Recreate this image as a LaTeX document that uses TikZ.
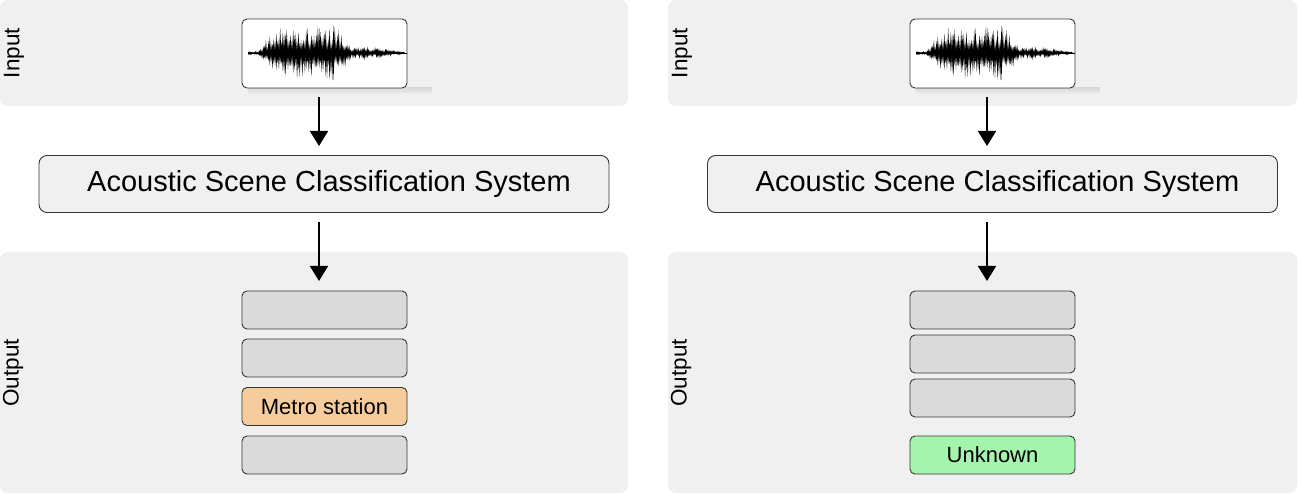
\documentclass[tikz,border=0pt]{standalone}
\usepackage{fontspec}
\setmainfont{Liberation Sans}
\usetikzlibrary{arrows.meta}
\definecolor{panelbg}{HTML}{F0F0F0}
\definecolor{slotgray}{HTML}{DADADA}
\definecolor{peach}{HTML}{F6CC9C}
\definecolor{mint}{HTML}{A5F4AE}
\definecolor{edge}{HTML}{363636}
\tikzset{
  panel/.style={fill=panelbg, draw=none, rounded corners=8pt},
  sidelabel/.style={rotate=90, font=\fontsize{22.5}{26}\selectfont, inner sep=0pt},
  wavebox/.style={draw=edge, line width=0.9pt, fill=white, rounded corners=5pt, minimum width=165pt, minimum height=69pt, inner sep=0pt},
  ascbox/.style={draw=edge, line width=0.9pt, fill=panelbg, rounded corners=8pt, minimum width=570pt, minimum height=57pt, font=\fontsize{29}{34}\selectfont, inner sep=0pt},
  slot/.style={draw=edge, line width=0.9pt, fill=slotgray, rounded corners=5pt, minimum width=165pt, minimum height=38pt, font=\fontsize{22}{26}\selectfont, inner sep=0pt},
  flow/.style={line width=1.8pt, -{Triangle[length=15pt,width=18pt]}},
}
\newcommand{\mywave}[2]{%
  \pgfmathsetseed{11}%
  \draw[line width=0.6pt] (#1-1,#2) -- (#1+158,#2);
  \foreach \i in {0,1.3,...,156}{%
    \pgfmathsetmacro{\xx}{#1+\i}%
    \pgfmathsetmacro{\env}{(\i<10) ? 2.5 : ((\i<24) ? 2.5+(\i-10)*1.6 : ((\i<88) ? 28 : ((\i<102) ? 28-(\i-88)*1.5 : ((\i<120) ? 7 : 7-(\i-120)*0.15))))}%
    \pgfmathsetmacro{\core}{\env*0.35}%
    \pgfmathsetmacro{\up}{\core+(\env-\core)*rnd^1.3}%
    \pgfmathsetmacro{\dn}{\core+(\env-\core)*rnd^1.3}%
    \fill (\xx-1.1,#2) -- (\xx,#2-\up) -- (\xx+1.1,#2) -- (\xx,#2+\dn) -- cycle;
  }%
}
\begin{document}
\begin{tikzpicture}[x=1pt,y=-1pt]
\useasboundingbox (0,0) rectangle (1298,494);
% ===== left =====
\fill[panel] (0,0) rectangle (628,106);
\fill[panel] (0,252) rectangle (628,493);
\node[sidelabel] (inL) at (14,53) {Input};
\node[sidelabel] (outL) at (13,373) {Output};
\shade[top color=gray!30, bottom color=panelbg] (248,88) rectangle (432,94);
\node[wavebox] (waveL) at (324.5,53.5) {};
\mywave{249}{53}
\node[ascbox] (ascL) at (324,184) {\hspace*{10pt}Acoustic Scene Classification System};
\node[slot] (l1) at (324.5,310) {};
\node[slot] (l2) at (324.5,358) {};
\node[slot, fill=peach] (l3) at (324.5,406.5) {Metro station};
\node[slot] (l4) at (324.5,455) {};
\coordinate (aL1) at (319,97);
\coordinate (aL2) at (319,146);
\coordinate (aL3) at (319,222);
\coordinate (aL4) at (319,281);
\draw[flow] (aL1) -- (aL2);
\draw[flow] (aL3) -- (aL4);
% ===== right =====
\fill[panel] (668,0) rectangle (1297,106);
\fill[panel] (668,252) rectangle (1297,493);
\node[sidelabel] (inR) at (682,53) {Input};
\node[sidelabel] (outR) at (681,373) {Output};
\shade[top color=gray!30, bottom color=panelbg] (916,88) rectangle (1100,94);
\node[wavebox] (waveR) at (992.5,53.5) {};
\mywave{917}{53}
\node[ascbox] (ascR) at (992.5,184) {\hspace*{10pt}Acoustic Scene Classification System};
\node[slot] (r1) at (992.5,310) {};
\node[slot] (r2) at (992.5,354) {};
\node[slot] (r3) at (992.5,398) {};
\node[slot, fill=mint] (r4) at (992.5,455) {Unknown};
\coordinate (aR1) at (987,97);
\coordinate (aR2) at (987,146);
\coordinate (aR3) at (987,222);
\coordinate (aR4) at (987,281);
\draw[flow] (aR1) -- (aR2);
\draw[flow] (aR3) -- (aR4);
\end{tikzpicture}
\end{document}
